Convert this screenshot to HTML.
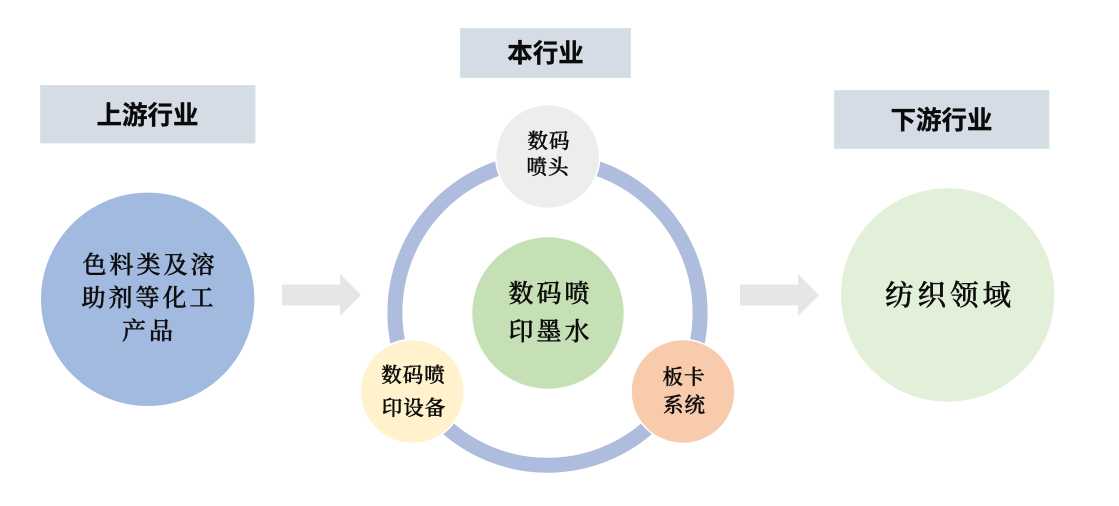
<!DOCTYPE html>
<html lang="zh">
<head>
<meta charset="utf-8">
<style>
html,body{margin:0;padding:0;background:#fff}
svg{display:block}
.h{font-family:"Liberation Sans","Noto Sans CJK SC",sans-serif;font-weight:700;font-size:25.5px;fill:#0a0a0a;stroke:#0a0a0a;stroke-width:.3px;text-anchor:middle}
.k{font-family:"Liberation Serif","Noto Serif CJK SC",serif;font-weight:500;fill:#0c0c0c;stroke:#0c0c0c;stroke-width:.45px;text-anchor:middle}
.t{filter:blur(.3px)}
</style>
</head>
<body>
<svg width="1119" height="506" viewBox="0 0 1119 506" xmlns="http://www.w3.org/2000/svg">
<rect width="1119" height="506" fill="#fff"/>
<g fill="#d6dce5" stroke="#d3e8e2" stroke-width="1">
<rect x="40.5" y="85.5" width="214.5" height="57.5"/>
<rect x="460.5" y="28.5" width="170" height="49"/>
<rect x="834.5" y="90.5" width="214.5" height="58"/>
</g>
<g fill="#e6e6e6">
<polygon points="282,284.5 340,284.5 340,274 361,295 340,316 340,305.5 282,305.5"/>
<polygon points="740,284.5 798,284.5 798,274 819,295 798,316 798,305.5 740,305.5"/>
</g>
<circle cx="147.7" cy="299.3" r="106.7" fill="#a2b9e0"/>
<circle cx="947.7" cy="295" r="106.7" fill="#e2efd9"/>
<circle cx="547.5" cy="312.7" r="152.6" fill="none" stroke="#aebcdd" stroke-width="15"/>
<circle cx="548" cy="313" r="75.7" fill="#c5e0b4"/>
<g stroke="#fff" stroke-width="1.5">
<circle cx="547.7" cy="156.5" r="52" fill="#ededed"/>
<circle cx="412.3" cy="391.5" r="52" fill="#fff2cc"/>
<circle cx="683" cy="391.5" r="52" fill="#f8cbad"/>
</g>
<g class="t">
<text class="h" x="147.5" y="124">上游行业</text>
<text class="h" x="545.5" y="62">本行业</text>
<text class="h" x="941.5" y="129">下游行业</text>
<g font-size="24" letter-spacing="3">
<text class="k" x="150" y="273">色料类及溶</text>
<text class="k" x="149" y="306">助剂等化工</text>
<text class="k" x="149" y="339">产品</text>
</g>
<g font-size="25" letter-spacing="3">
<text class="k" x="550.5" y="302">数码喷</text>
<text class="k" x="550.5" y="340">印墨水</text>
</g>
<g font-size="20.5" letter-spacing="1">
<text class="k" x="549" y="148">数码</text>
<text class="k" x="548" y="174">喷头</text>
<text class="k" x="413.5" y="382">数码喷</text>
<text class="k" x="414" y="415">印设备</text>
<text class="k" x="684" y="384">板卡</text>
<text class="k" x="684.5" y="412">系统</text>
</g>
<text class="k" x="950" y="305" font-size="28.5" letter-spacing="4">纺织领域</text>
</g>
</svg>
</body>
</html>
